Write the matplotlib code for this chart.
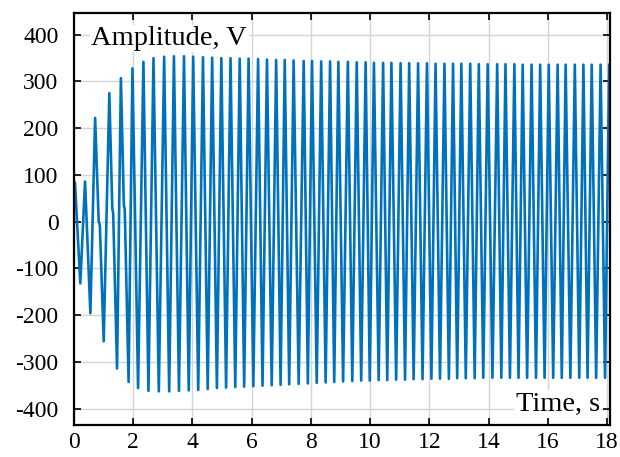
import numpy as np
import matplotlib
matplotlib.use("Agg")
import matplotlib.pyplot as plt

# positive peaks of the waveform (time, s / amplitude, V)
peak_t = [0.04, 0.38, 0.72, 1.20, 1.59, 1.98, 2.35, 2.69, 3.05, 3.38, 3.72, 4.03, 4.36,
          4.67, 4.98, 5.29, 5.60, 5.90, 6.22, 6.52, 6.83, 7.12, 7.42, 7.76, 8.04, 8.35,
          8.65, 8.93, 9.25, 9.55, 9.85, 10.13, 10.44, 10.72, 11.03, 11.32, 11.62, 11.92,
          12.21, 12.51, 12.80, 13.08, 13.38, 13.67, 13.97, 14.29, 14.57, 14.87, 15.15,
          15.45, 15.74, 16.03, 16.33, 16.60, 16.91, 17.20, 17.48, 17.78, 18.07]
peak_v = [84, 86, 222, 275, 307, 328, 342, 350, 353, 354, 354, 353, 352,
          351, 350, 350, 349, 349, 348, 347, 346, 346, 345, 344, 344, 343,
          343, 342, 342, 341, 341, 340, 340, 340, 339, 339, 339, 339,
          338, 338, 338, 338, 338, 337, 337, 337, 337, 337, 336,
          336, 336, 336, 336, 336, 336, 336, 336, 336, 336]

# negative peaks
trough_t = [0.22, 0.56, 1.01, 1.46, 1.85,
            2.17, 2.52, 2.87, 3.22, 3.55, 3.88, 4.20, 4.52,
            4.83, 5.14, 5.45, 5.75, 6.06, 6.37, 6.68, 6.98,
            7.27, 7.59, 7.90, 8.20, 8.50, 8.79, 9.09, 9.40,
            9.70, 9.99, 10.29, 10.58, 10.88, 11.18, 11.47, 11.77,
            12.07, 12.36, 12.66, 12.94, 13.23, 13.53, 13.82, 14.13,
            14.43, 14.72, 15.01, 15.30, 15.60, 15.89, 16.18, 16.47,
            16.76, 17.06, 17.34, 17.63, 17.93]
trough_v = [-132, -196, -256, -314, -343, -356, -362, -363, -363, -362, -361, -360, -358,
            -356, -355, -354, -353, -352, -351, -350, -349, -348, -347, -346, -345, -344,
            -343, -342, -341, -340, -340, -339, -339, -338, -338, -337, -337, -336,
            -336, -336, -335, -335, -335, -334, -334, -334, -334, -334, -334,
            -334, -334, -334, -334, -334, -334, -334, -334, -334]

# start of the record and the small kinks on the early falling edges
extra_t = [0.0, 0.84, 0.88, 1.30, 1.33, 1.69, 1.72]
extra_v = [75, 2, -8, 28, 18, 36, 26]

t = np.array(peak_t + trough_t + extra_t)
v = np.array(peak_v + trough_v + extra_v)
order = np.argsort(t)
t, v = t[order], v[order]

plt.rcParams['font.family'] = ['Liberation Serif', 'DejaVu Serif']
plt.rcParams['axes.unicode_minus'] = False

fig = plt.figure(figsize=(6.2, 4.57), dpi=100)
ax = fig.add_axes([0.119, 0.070, 0.865, 0.901])

ax.plot(t, v, color='#0072BD', lw=1.9, zorder=2, solid_joinstyle='round')

ax.set_xlim(0, 18.1)
ax.set_ylim(-435, 446)
ax.set_xticks(np.arange(0, 19, 2))
ax.set_yticks(np.arange(-400, 401, 100))
ax.grid(True, color='#d4d4d4', lw=1.0, zorder=0)
ax.set_axisbelow(True)

ax.tick_params(direction='in', length=5, width=1.2, top=True, right=True,
               labelsize=17, colors='black')
ax.tick_params(axis='x', pad=5)
ax.tick_params(axis='y', pad=11)
for s in ax.spines.values():
    s.set_linewidth(1.6)
    s.set_color('black')

box = dict(facecolor='white', edgecolor='none', pad=1)
ax.text(0.033, 392, 'Amplitude, V', transform=ax.get_yaxis_transform(), fontsize=20.5,
        ha='left', va='center', bbox=box, zorder=3)
ax.text(0.981, -390, 'Time, s', transform=ax.get_yaxis_transform(), fontsize=20.5,
        ha='right', va='center', bbox=box, zorder=3)

fig.savefig('out.png', dpi=100)
